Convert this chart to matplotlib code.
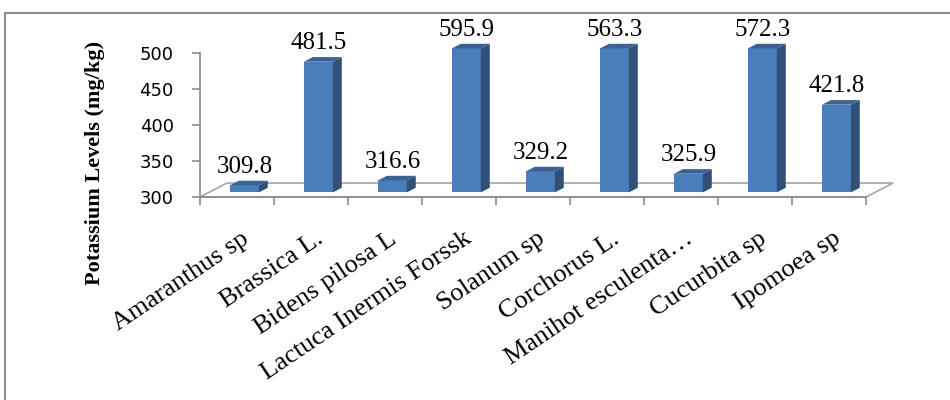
import numpy as np
import matplotlib
matplotlib.use("Agg")
import matplotlib.pyplot as plt
from matplotlib.patches import Polygon
from matplotlib.lines import Line2D

categories = ["Amaranthus sp", "Brassica L.", "Bidens pilosa L", "Lactuca Inermis Forssk",
              "Solanum sp", "Corchorus L.", "Manihot esculenta…", "Cucurbita sp", "Ipomoea sp"]
values = [309.8, 481.5, 316.6, 595.9, 329.2, 563.3, 325.9, 572.3, 421.8]
yticks = [300, 350, 400, 450, 500]
ylabel = "Potassium Levels (mg/kg)"

ymin, ymax = 300, 500
DX, DY = 0.365, 19.4        # depth offset of the floor in data units
f0, f1 = 0.33, 0.66         # bar front / back depth fraction
bw = 0.39

front_c = "#4a7ebb"
side_c = "#30507a"
top_c = "#3a6293"
grey = "#8c8c8c"

fig = plt.figure(figsize=(9.5, 4.0), dpi=100)
ax = fig.add_axes([200 / 950, 1 - 197 / 400, 666 / 950, 144 / 400])
ax.set_xlim(0, len(categories))
ax.set_ylim(ymin, ymax)

# frame around the chart area
fig.add_artist(Line2D([5 / 950, 1.0], [1 - 13 / 400, 1 - 13 / 400], color=grey, lw=1.5))
fig.add_artist(Line2D([5 / 950, 5 / 950], [1 - 13 / 400, 0.0], color=grey, lw=1.5))

# floor
n = len(categories)
floor = Polygon([(0, ymin), (DX, ymin + DY), (n + DX, ymin + DY), (n, ymin)],
                closed=True, facecolor="white", edgecolor="#a6a6a6", lw=1.2,
                clip_on=False, zorder=1)
ax.add_patch(floor)

x = np.arange(n)
tops = np.minimum(values, ymax)
centers = x + 0.48 + f0 * DX
b0 = ymin + f0 * DY
ax.bar(centers, tops - ymin, bottom=b0, width=bw, color=front_c,
       edgecolor="none", clip_on=False, zorder=3)

d = f1 - f0
for i in range(n):
    xl = centers[i] - bw / 2
    xr = centers[i] + bw / 2
    t0 = tops[i] + f0 * DY
    side = Polygon([(xr, b0), (xr + d * DX, b0 + d * DY), (xr + d * DX, t0 + d * DY), (xr, t0)],
                   closed=True, facecolor=side_c, edgecolor="none", clip_on=False, zorder=3)
    top = Polygon([(xl, t0), (xr, t0), (xr + d * DX, t0 + d * DY), (xl + d * DX, t0 + d * DY)],
                  closed=True, facecolor=top_c, edgecolor="none", clip_on=False, zorder=3)
    ax.add_patch(side)
    ax.add_patch(top)
    ax.annotate(f"{values[i]:.1f}", (centers[i], t0 + d * DY), xytext=(0, 2),
                textcoords="offset points", ha="center", va="bottom",
                fontsize=18, family="Liberation Serif", color="black", zorder=4,
                annotation_clip=False)

# axes styling
for s in ["top", "right"]:
    ax.spines[s].set_visible(False)
for s in ["left", "bottom"]:
    ax.spines[s].set_color(grey)
    ax.spines[s].set_linewidth(1.2)
    ax.spines[s].set_zorder(2)

ax.set_yticks(yticks)
ax.set_yticklabels([str(v) for v in yticks], fontsize=13, family="DejaVu Sans")
ax.tick_params(axis="y", direction="out", length=6, width=1.2, color=grey, pad=13)

ax.set_xticks(np.arange(n + 1))
ax.set_xticklabels([])
ax.tick_params(axis="x", which="major", direction="out", length=6, width=1.2, color=grey)
ax.set_xticks(x + 0.55, minor=True)
ax.set_xticklabels(categories, minor=True, rotation=34, ha="right",
                   rotation_mode="anchor", fontsize=19, family="Liberation Serif")
ax.tick_params(axis="x", which="minor", length=0, pad=22)

fig.text(95 / 950, 1 - 163 / 400, ylabel, rotation=90, ha="center", va="center",
         fontsize=16, fontweight="bold", family="Liberation Serif")

fig.savefig("out.png", dpi=100)
